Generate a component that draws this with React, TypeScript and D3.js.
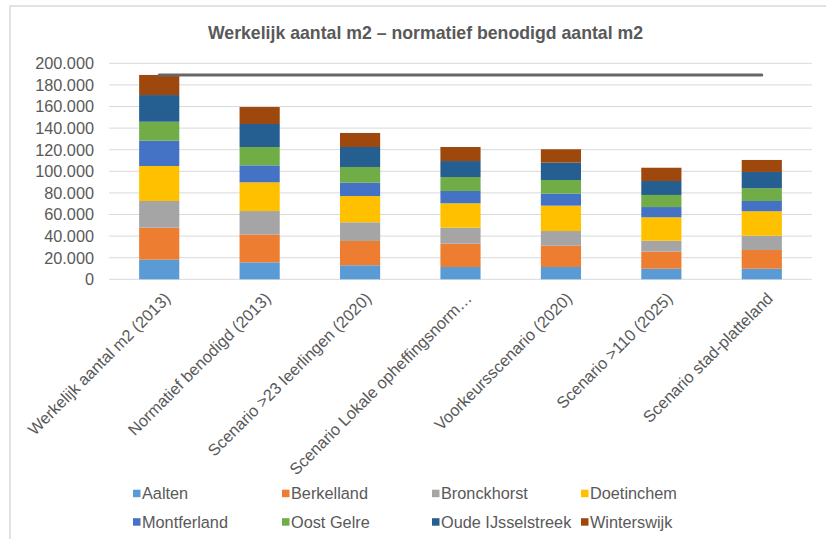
import React from "react";
import * as d3 from "d3";

const categories = [
  "Werkelijk aantal m2 (2013)",
  "Normatief benodigd (2013)",
  "Scenario >23 leerlingen (2020)",
  "Scenario Lokale opheffingsnorm…",
  "Voorkeursscenario (2020)",
  "Scenario >110 (2025)",
  "Scenario stad-platteland",
];

const seriesNames = [
  "Aalten",
  "Berkelland",
  "Bronckhorst",
  "Doetinchem",
  "Montferland",
  "Oost Gelre",
  "Oude IJsselstreek",
  "Winterswijk",
];

const aalten = [18200, 15700, 13000, 11400, 11400, 9800, 9800];
const berkelland = [29600, 25600, 22500, 21600, 19700, 15800, 17300];
const bronckhorst = [24700, 21900, 17300, 14800, 13600, 10100, 13300];
const doetinchem = [32400, 26600, 24300, 22600, 23500, 21700, 22600];
const montferland = [23400, 15700, 12300, 11400, 11100, 9500, 9500];
const oostGelre = [17600, 17000, 14600, 12900, 12600, 11200, 11800];
const oudeIJsselstreek = [24700, 21300, 18500, 14800, 16100, 12900, 15100];
const winterswijk = [18600, 15700, 13000, 13000, 12400, 12300, 11100];

const werkelijkLine = [189200, 189200, 189200, 189200, 189200, 189200, 189200];

const yTicks = [0, 20000, 40000, 60000, 80000, 100000, 120000, 140000, 160000, 180000, 200000];

const colors = ["#5B9BD5", "#ED7D31", "#A5A5A5", "#FFC000", "#4472C4", "#70AD47", "#255E91", "#9E480E"];

const seriesValues = [aalten, berkelland, bronckhorst, doetinchem, montferland, oostGelre, oudeIJsselstreek, winterswijk];

const W = 826;
const H = 539;
const FONT = "'Liberation Sans', Arial, sans-serif";
const TXT = "#595959";
const FS = 16.3;

export default function App() {
  const plotLeft = 109;
  const plotRight = 812;
  const plotTop = 63.3;
  const plotBottom = 279.3;

  const x = d3.scaleBand<string>().domain(categories).range([plotLeft, plotRight]).paddingInner(0.6).paddingOuter(0.3);
  const xc = (c: string) => (x(c) as number) + x.bandwidth() / 2;
  const y = d3.scaleLinear().domain([0, 200000]).range([plotBottom, plotTop]);

  const rows = categories.map((c, i) => {
    const r: any = { cat: c };
    seriesNames.forEach((s, k) => (r[s] = seriesValues[k][i]));
    return r;
  });
  const stacked = d3.stack<any>().keys(seriesNames)(rows);

  const lineGen = d3
    .line<number>()
    .x((_, i) => xc(categories[i]))
    .y((d) => y(d));

  const fmt = (v: number) => (v === 0 ? "0" : d3.format(",")(v).replace(/,/g, "."));

  const legendCols = [133, 282, 432, 581];
  const legendRows = [493.5, 522];

  return (
    <svg width={W} height={H} style={{ position: "absolute", left: 0, top: 0, background: "#fff" }} fontFamily={FONT}>
      <rect x={10} y={6} width={W} height={H} fill="#fff" stroke="#d9d9d9" strokeWidth={1.5} />
      <text x={425.5} y={39} textAnchor="middle" fontSize={17.7} fontWeight="bold" fill={TXT}>
        Werkelijk aantal m2 – normatief benodigd aantal m2
      </text>
      {yTicks.map((t) => (
        <g key={t}>
          <line x1={plotLeft} x2={plotRight} y1={y(t)} y2={y(t)} stroke="#d9d9d9" strokeWidth={1} />
          <text x={94} y={y(t)} dy="0.36em" textAnchor="end" fontSize={FS} fill={TXT}>
            {fmt(t)}
          </text>
        </g>
      ))}
      {stacked.map((layer, k) => (
        <g key={seriesNames[k]} fill={colors[k]}>
          {layer.map((d, i) => (
            <rect
              key={i}
              x={x(categories[i])}
              width={x.bandwidth()}
              y={y(d[1])}
              height={y(d[0]) - y(d[1])}
            />
          ))}
        </g>
      ))}
      <path d={lineGen(werkelijkLine) || ""} fill="none" stroke="#666666" strokeWidth={3} strokeLinecap="round" />
      {categories.map((c) => (
        <text
          key={c}
          transform={`translate(${xc(c) + 4},${plotBottom + 12}) rotate(-45)`}
          textAnchor="end"
          dy="0.71em"
          fontSize={FS}
          fill={TXT}
        >
          {c}
        </text>
      ))}
      {seriesNames.map((s, k) => {
        const cx = legendCols[k % 4];
        const cy = legendRows[Math.floor(k / 4)];
        return (
          <g key={s}>
            <rect x={cx} y={cy - 3.8} width={7.5} height={7.5} fill={colors[k]} />
            <text x={cx + 9} y={cy} dy="0.36em" fontSize={FS} fill={TXT}>
              {s}
            </text>
          </g>
        );
      })}
    </svg>
  );
}
